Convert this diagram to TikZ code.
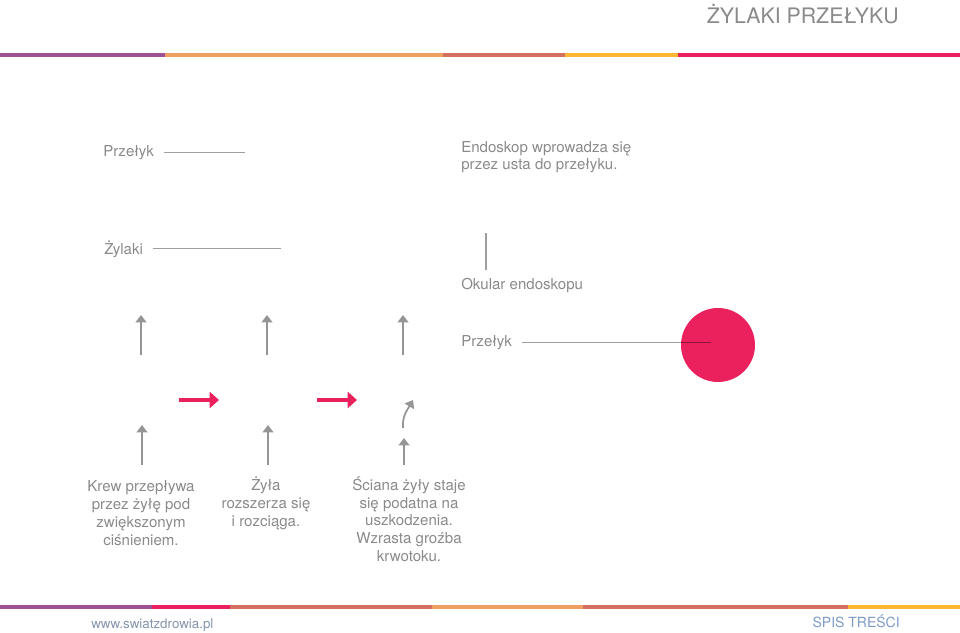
\documentclass[tikz,border=0pt]{standalone}
\usepackage{fontspec}
\setmainfont{TeX Gyre Heros}
\usepackage{xcolor}
\usepackage{tikz}
\usetikzlibrary{arrows.meta,positioning}
\definecolor{txtgrey}{HTML}{8A8A8A}
\definecolor{linegrey}{HTML}{9E9E9E}
\definecolor{arrgrey}{HTML}{959595}
\definecolor{accent}{HTML}{EB215E}
\definecolor{deeprose}{HTML}{8D1337}
\definecolor{barpurple}{HTML}{9B5193}
\definecolor{barorange}{HTML}{EEA062}
\definecolor{barbrick}{HTML}{D3705F}
\definecolor{baryellow}{HTML}{FBB634}
\definecolor{footgrey}{HTML}{8593AD}
\definecolor{footblue}{HTML}{7D9BC8}
\tikzset{
  lbl/.style={font=\fontsize{11.3}{13.2}\selectfont, text=txtgrey, inner sep=0pt},
  caption/.style={lbl, align=center, anchor=base},
  leader/.style={draw=linegrey, line width=0.8pt},
  uparr/.style={draw=arrgrey, line width=1.5pt, -{Triangle[length=5.5pt,width=8pt]}},
  pinkarr/.style={draw=accent, line width=2.8pt, -{Triangle[length=7pt,width=12pt]}},
  foot/.style={font=\fontsize{10}{12}\selectfont, inner sep=0pt, anchor=base west}}

\begin{document}
\begin{tikzpicture}[x=0.75pt, y=-0.75pt]
  \useasboundingbox (0,0) rectangle (960,632);
  % colour bars
  \fill[barpurple] (0,53) rectangle (165,57);
  \fill[barorange] (165,53) rectangle (443,57);
  \fill[barbrick] (443,53) rectangle (565,57);
  \fill[baryellow] (565,53) rectangle (678,57);
  \fill[accent] (678,53) rectangle (960,57);
  \fill[barpurple] (0,605) rectangle (152,609);
  \fill[accent] (152,605) rectangle (230,609);
  \fill[barbrick] (230,605) rectangle (432,609);
  \fill[barorange] (432,605) rectangle (583,609);
  \fill[barbrick] (583,605) rectangle (848,609);
  \fill[baryellow] (848,605) rectangle (960,609);
  \node[lbl, font=\fontsize{16}{19}\selectfont, anchor=base east] (title) at (899,23) {ŻYLAKI PRZEŁYKU};
  % labels and leaders
  \node[lbl, anchor=base west] (przelyk) at (103,156) {Przełyk};
  \coordinate (przelykend) at (245,152);
  \draw[leader, shorten <=7pt] (przelyk.east) -- (przelyk.east -| przelykend);
  \node[lbl, align=left, anchor=base west, font=\fontsize{11.3}{12.75}\selectfont] (endo) at (461,169) {Endoskop wprowadza się\\przez usta do przełyku.};
  \node[lbl, anchor=base west] (zylaki) at (104,254) {Żylaki};
  \coordinate (zylakiend) at (281,250);
  \draw[leader, shorten <=7pt] (zylaki.east) -- (zylaki.east -| zylakiend);
  \coordinate (okulartop) at (486,233);
  \coordinate (okularbot) at (486,270);
  \draw[leader] (okulartop) -- (okularbot);
  \node[lbl, anchor=base west] (okular) at (461,289) {Okular endoskopu};
  \node[circle, fill=accent, minimum size=55.5pt, inner sep=0pt] (dot) at (718,345) {};
  \node[lbl, anchor=base west] (przelyktwo) at (461,346) {Przełyk};
  \coordinate (przelyktwoend) at (711,342);
  \draw[leader, shorten <=7pt] (przelyktwo.east) -- (przelyktwo.east -| przelyktwoend);
  \begin{scope}
    \clip (dot.center) circle (27.75pt);
    \draw[leader, draw=deeprose] (przelyktwo.east) -- (przelyktwo.east -| przelyktwoend);
  \end{scope}
  % arrows
  \coordinate (ua1) at (141,355); \coordinate (ub1) at (141,315);
  \coordinate (ua2) at (267,355); \coordinate (ub2) at (267,315);
  \coordinate (ua3) at (403,355); \coordinate (ub3) at (403,315);
  \draw[uparr] (ua1) -- (ub1); \draw[uparr] (ua2) -- (ub2); \draw[uparr] (ua3) -- (ub3);
  \coordinate (pa1) at (179,400); \coordinate (pb1) at (219,400);
  \coordinate (pa2) at (317,400); \coordinate (pb2) at (357,400);
  \draw[pinkarr] (pa1) -- (pb1); \draw[pinkarr] (pa2) -- (pb2);
  \coordinate (la1) at (142,465); \coordinate (lb1) at (142,425);
  \coordinate (la2) at (268,465); \coordinate (lb2) at (268,425);
  \coordinate (la3) at (404,465); \coordinate (lb3) at (404,438);
  \draw[uparr] (la1) -- (lb1); \draw[uparr] (la2) -- (lb2); \draw[uparr] (la3) -- (lb3);
  \coordinate (ca) at (403,428); \coordinate (cb) at (413,400);
  \draw[uparr, line width=1.3pt] (ca) to[out=95, in=-120] (cb);
  % captions
  \node[caption, font=\fontsize{11.3}{13.5}\selectfont] (capone) at (141,545) {Krew przepływa\\przez żyłę pod\\zwiększonym\\ciśnieniem.};
  \node[caption] (captwo) at (266,526) {Żyła\\rozszerza się\\i rozciąga.};
  \node[caption] (capthree) at (409,561) {Ściana żyły staje\\się podatna na\\uszkodzenia.\\Wzrasta groźba\\krwotoku.};
  % footer
  \node[foot, text=footgrey] (www) at (91,628) {www.swiatzdrowia.pl};
  \node[foot, text=footblue, anchor=base east, font=\fontsize{10.5}{12}\selectfont] (spis) at (900,627) {SPIS TREŚCI};
\end{tikzpicture}
\end{document}
